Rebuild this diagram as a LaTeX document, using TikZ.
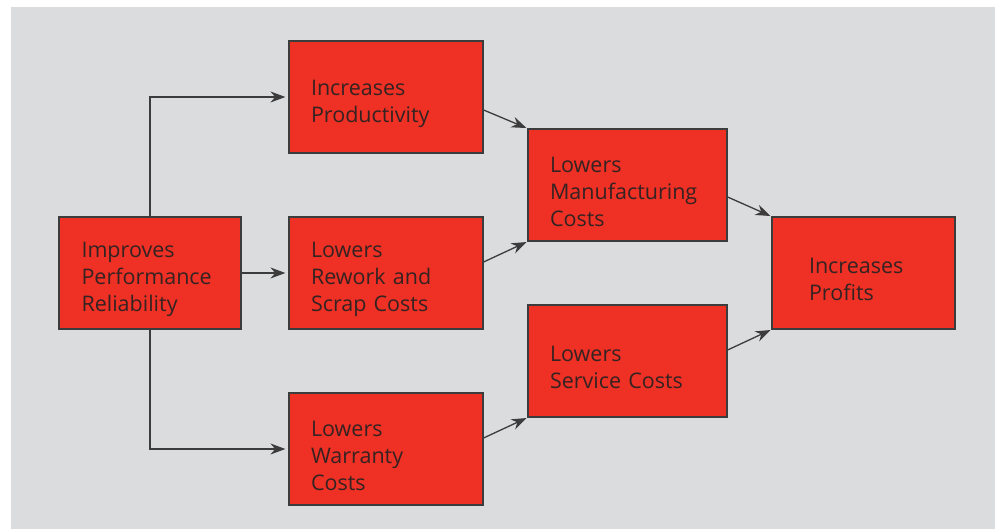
\documentclass[tikz,border=0pt]{standalone}
\usepackage{fontspec}
\setmainfont{Open Sans}
\usetikzlibrary{arrows.meta}
\definecolor{cbg}{HTML}{DBDCDE}
\definecolor{cbox}{HTML}{EE3124}
\definecolor{cline}{HTML}{3C3C3C}
\definecolor{ctext}{HTML}{352222}
\tikzset{
  box/.style={rectangle, draw=cline, fill=cbox, line width=1.2pt, text=ctext,
              align=left, inner xsep=22pt, minimum height=112pt,
              font=\fontsize{21.5}{27}\selectfont,
              execute at begin node={\rule{0pt}{29pt}}},
  flow/.style={-{Stealth[length=15pt,width=11pt]}, line width=1.3pt, draw=cline,
               shorten >=3pt}
}
\begin{document}
\begin{tikzpicture}[x=1pt, y=-1pt]
\useasboundingbox (0,0) rectangle (995,529);
\fill[cbg] (11,7) rectangle (995,529);

\node[box, text width=137pt, inner xsep=22.5pt] (rel) at (150,273) {Improves\\Performance\\Reliability};
\node[box, text width=150pt] (prod) at (386,97) {Increases\\Productivity};
\node[box, text width=150pt] (scrap) at (386,273) {Lowers\\Rework and\\Scrap Costs};
\node[box, text width=150pt] (warr) at (386,449) {Lowers\\Warranty\\Costs};
\node[box, text width=155pt] (manu) at (627.5,185) {Lowers\\Manufacturing\\Costs};
\node[box, text width=155pt] (serv) at (627.5,361) {Lowers\\Service Costs};
\node[box, text width=109pt, inner xsep=37pt] (prof) at (863.5,273) {Increases\\Profits};

\draw[flow] (rel.north) |- (prod.west);
\draw[flow] (rel) -- (scrap);
\draw[flow] (rel.south) |- (warr.west);
\draw[flow, shorten >=1pt] ([yshift=-13pt]prod.east) -- (manu.north west);
\draw[flow, shorten >=1pt] ([yshift=11pt]scrap.east) -- (manu.south west);
\draw[flow, shorten >=1pt] ([yshift=11pt]warr.east) -- (serv.south west);
\draw[flow, shorten >=1pt] ([yshift=-12pt]manu.east) -- (prof.north west);
\draw[flow, shorten >=1pt] ([yshift=11pt]serv.east) -- (prof.south west);
\end{tikzpicture}
\end{document}
